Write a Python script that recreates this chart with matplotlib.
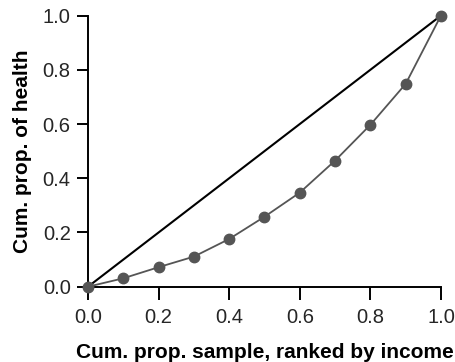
import matplotlib.pyplot as plt

# 数据
sample_prop = [0.0, 0.1, 0.2, 0.3, 0.4, 0.5, 0.6, 0.7, 0.8, 0.9, 1.0]
health_prop = [0.0, 0.031, 0.072, 0.111, 0.176, 0.258, 0.347, 0.465, 0.597, 0.748, 1.0]
equality = [0.0, 1.0]
ticks = [0.0, 0.2, 0.4, 0.6, 0.8, 1.0]
tick_labels = ['0.0', '0.2', '0.4', '0.6', '0.8', '1.0']

plt.rcParams['font.family'] = ['Liberation Sans', 'DejaVu Sans']

fig = plt.figure(figsize=(4.56, 3.62), dpi=100)
ax = fig.add_axes([0.193, 0.208, 0.774, 0.749])

ax.plot(equality, equality, color='black', lw=1.5, clip_on=False)
ax.plot(sample_prop, health_prop, color='#555555', lw=1.3, marker='o',
        markersize=7.5, clip_on=False, zorder=3)

ax.set_xlim(0, 1)
ax.set_ylim(0, 1)
ax.set_xticks(ticks)
ax.set_xticklabels(tick_labels)
ax.set_yticks(ticks)
ax.set_yticklabels(tick_labels)

for s in ['top', 'right']:
    ax.spines[s].set_visible(False)
for s in ['left', 'bottom']:
    ax.spines[s].set_linewidth(1.4)

ax.tick_params(direction='out', width=1.4, labelsize=14.5, labelcolor='#262626')
ax.tick_params(axis='x', length=9, pad=6)
ax.tick_params(axis='y', length=8, pad=4.5)

ax.set_xlabel('Cum. prop. sample, ranked by income', fontsize=15,
              fontweight='bold', labelpad=12)
ax.set_ylabel('Cum. prop. of health', fontsize=15, fontweight='bold',
              labelpad=8)

fig.savefig('out.png', dpi=100)
